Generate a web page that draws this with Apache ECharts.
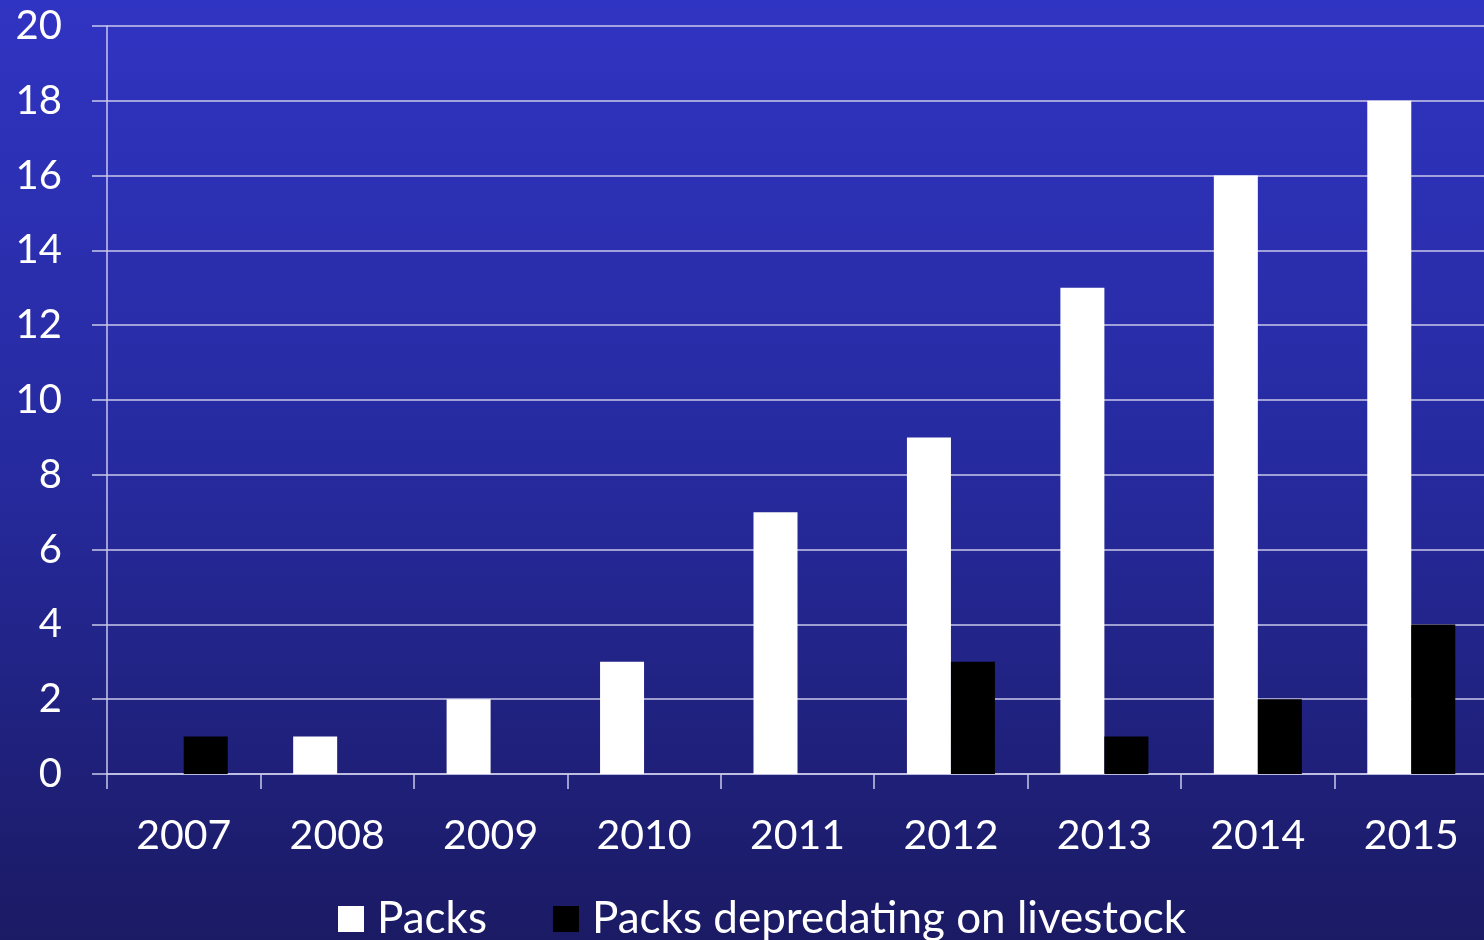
<!DOCTYPE html>
<html>
<head>
<meta charset="utf-8">
<title>Wolf packs and livestock depredation</title>
<script src="https://cdn.jsdelivr.net/npm/echarts@6/dist/echarts.min.js"></script>
<style>
  html, body { margin: 0; padding: 0; background: #1c1a66; }
  #chart { width: 1484px; height: 940px; }
</style>
</head>
<body>
<div id="chart"></div>
<script>
// Years on the category axis
const years = ['2007', '2008', '2009', '2010', '2011', '2012', '2013', '2014', '2015'];
// Number of packs per year
const packs = [0, 1, 2, 3, 7, 9, 13, 16, 18];
// Packs that preyed on livestock per year
const depredating = [1, 0, 0, 0, 0, 3, 1, 2, 4];
// Value axis range
const yMin = 0, yMax = 20, yStep = 2;

const font = 'Lato, "Open Sans", sans-serif';
const lineCol = '#c9c9ea';

const chart = echarts.init(document.getElementById('chart'), null, { renderer: 'canvas' });
chart.setOption({
  backgroundColor: {
    type: 'linear', x: 0, y: 0, x2: 0, y2: 1,
    colorStops: [
      { offset: 0, color: '#3034c2' },
      { offset: 0.5, color: '#262a9e' },
      { offset: 1, color: '#1b1a64' }
    ]
  },
  textStyle: { fontFamily: font },
  animation: false,
  // plot area runs slightly past the right edge of the canvas
  grid: { left: 107, width: 1381, top: 26, bottom: 166, containLabel: false, outerBoundsMode: 'none' },
  legend: {
    left: 338, top: 897, padding: 0,
    itemWidth: 26, itemHeight: 26, itemGap: 66,
    icon: 'rect',
    textStyle: { color: '#ffffff', fontSize: 44, fontFamily: font, padding: [0, 0, 0, 8] },
    data: ['Packs', 'Packs depredating on livestock']
  },
  xAxis: {
    type: 'category',
    data: years,
    boundaryGap: true,
    axisLine: { show: true, lineStyle: { color: lineCol, width: 1.5 } },
    axisTick: { show: true, length: 15, inside: false, lineStyle: { color: lineCol, width: 1.5 } },
    axisLabel: { color: '#ffffff', fontSize: 41, fontFamily: font, margin: 41 },
    splitLine: { show: false }
  },
  yAxis: {
    type: 'value',
    min: yMin, max: yMax, interval: yStep,
    axisLine: { show: true, lineStyle: { color: lineCol, width: 1.5 } },
    axisTick: { show: true, length: 15, lineStyle: { color: lineCol, width: 1.5 } },
    axisLabel: { color: '#ffffff', fontSize: 40, fontFamily: font, margin: 45 },
    splitLine: { show: true, lineStyle: { color: lineCol, width: 1.5 } }
  },
  series: [
    {
      name: 'Packs', type: 'bar', data: packs,
      barWidth: 44, barGap: '0%',
      itemStyle: { color: '#ffffff' }
    },
    {
      name: 'Packs depredating on livestock', type: 'bar', data: depredating,
      barWidth: 44, barGap: '0%',
      itemStyle: { color: '#000000' }
    }
  ]
});
</script>
</body>
</html>
